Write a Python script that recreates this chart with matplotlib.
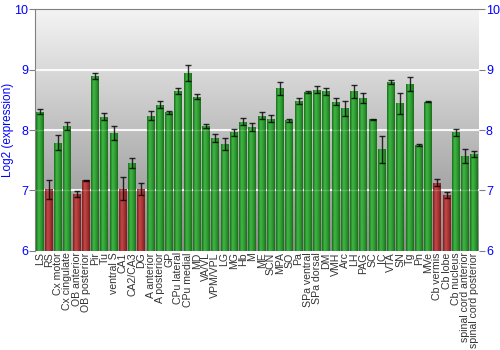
import numpy as np
import matplotlib.pyplot as plt
from matplotlib.colors import LinearSegmentedColormap

plt.rcParams['font.family'] = ['Liberation Sans', 'DejaVu Sans']

# brain regions and log2 expression
regions = ['LS', 'RS', 'Cx motor', 'Cx cingulate', 'OB anterior', 'OB posterior',
           'Pir', 'Tu', 'ventral S', 'CA1', 'CA2/CA3', 'DG', 'A anterior',
           'A posterior', 'GP', 'CPu lateral', 'CPu medial', 'MD', 'VA/VL',
           'VPM/VPL', 'LG', 'MG', 'Hb', 'M', 'ME', 'SCN', 'MPA', 'SO', 'Pa',
           'SPa ventral', 'SPa dorsal', 'DM', 'VMH', 'Arc', 'LH', 'PAG', 'SC',
           'IC', 'VTA', 'SN', 'Tg', 'Pn', 'MVe', 'Cb vermis', 'Cb lobe',
           'Cb nucleus', 'spinal cord anterior', 'spinal cord posterior']
values = [8.30, 7.02, 7.79, 8.07, 6.94, 7.17, 8.89, 8.22, 7.95, 7.03, 7.46, 7.02,
          8.24, 8.42, 8.29, 8.64, 8.94, 8.55, 8.07, 7.87, 7.77, 7.96, 8.14, 8.05,
          8.24, 8.19, 8.69, 8.16, 8.48, 8.63, 8.67, 8.64, 8.47, 8.36, 8.64, 8.53,
          8.18, 7.68, 8.80, 8.44, 8.76, 7.75, 8.47, 7.13, 6.92, 7.96, 7.57, 7.60]
errors = [0.04, 0.16, 0.12, 0.07, 0.05, 0.01, 0.05, 0.06, 0.12, 0.19, 0.08, 0.10,
          0.07, 0.06, 0.02, 0.05, 0.13, 0.04, 0.035, 0.06, 0.10, 0.06, 0.06, 0.07,
          0.06, 0.06, 0.11, 0.025, 0.045, 0.01, 0.05, 0.055, 0.06, 0.12, 0.11, 0.085,
          0.01, 0.22, 0.035, 0.17, 0.11, 0.015, 0.01, 0.06, 0.05, 0.06, 0.12, 0.05]
low = ['RS', 'OB anterior', 'OB posterior', 'CA1', 'DG', 'Cb vermis', 'Cb lobe']

fig = plt.figure(figsize=(5, 3.5), dpi=100)
ax = fig.add_axes([0.07, 0.283, 0.888, 0.691])

ymin, ymax = 6, 10
x = np.arange(len(regions))
ax.set_xlim(-0.5, len(regions) - 0.5)
ax.set_ylim(ymin, ymax)

# background gradient
bg = LinearSegmentedColormap.from_list('bg', ['#8a8a8a', '#f4f4f4'])
ax.imshow(np.linspace(0, 1, 256).reshape(-1, 1), cmap=bg, aspect='auto',
          origin='lower', extent=(-0.5, len(regions) - 0.5, ymin, ymax), zorder=0)

for yv in [7, 8, 9]:
    ax.axhline(yv, color='white', lw=1.5, alpha=0.9, zorder=1)

green = LinearSegmentedColormap.from_list('g', ['#1b6e1b', '#3fb845', '#2e9a32', '#1b6e1b'])
red = LinearSegmentedColormap.from_list('r', ['#7a1e1e', '#c54848', '#a83434', '#7a1e1e'])
grad = np.linspace(0, 1, 64).reshape(1, -1)

w = 0.86
bars = ax.bar(x, np.array(values) - ymin, bottom=ymin, width=w, color='none',
              edgecolor='none', zorder=2)
for b, name in zip(bars, regions):
    cm = red if name in low else green
    x0 = b.get_x()
    im = ax.imshow(grad, cmap=cm, aspect='auto',
                   extent=(x0, x0 + b.get_width(), ymin, b.get_y() + b.get_height()),
                   zorder=2)
    im.set_clip_path(b)

for yv in [7, 8, 9]:
    ax.axhline(yv, color='white', lw=1, alpha=0.2, zorder=3)

ax.errorbar(x, values, yerr=errors, fmt='none', ecolor='black', elinewidth=1,
            capsize=2, capthick=1, alpha=0.8, zorder=4)

ax.set_xticks(x)
ax.set_xticklabels(regions, rotation=90, fontsize=7.6, color='#333333')
ax.tick_params(axis='x', length=0, pad=1)
ax.set_yticks([6, 7, 8, 9, 10])
ax.tick_params(axis='y', colors='#808080', labelcolor='#0000ff', labelsize=9,
               length=4, right=True, labelright=True, pad=1)
ax.set_ylabel('Log2 (expression)', color='#0000ff', fontsize=8.5)
ax.yaxis.set_label_coords(-0.048, 0.5)

for s in ['right', 'bottom']:
    ax.spines[s].set_visible(False)
for s in ['left', 'top']:
    ax.spines[s].set_color('#808080')

fig.savefig('out.png', dpi=100)
